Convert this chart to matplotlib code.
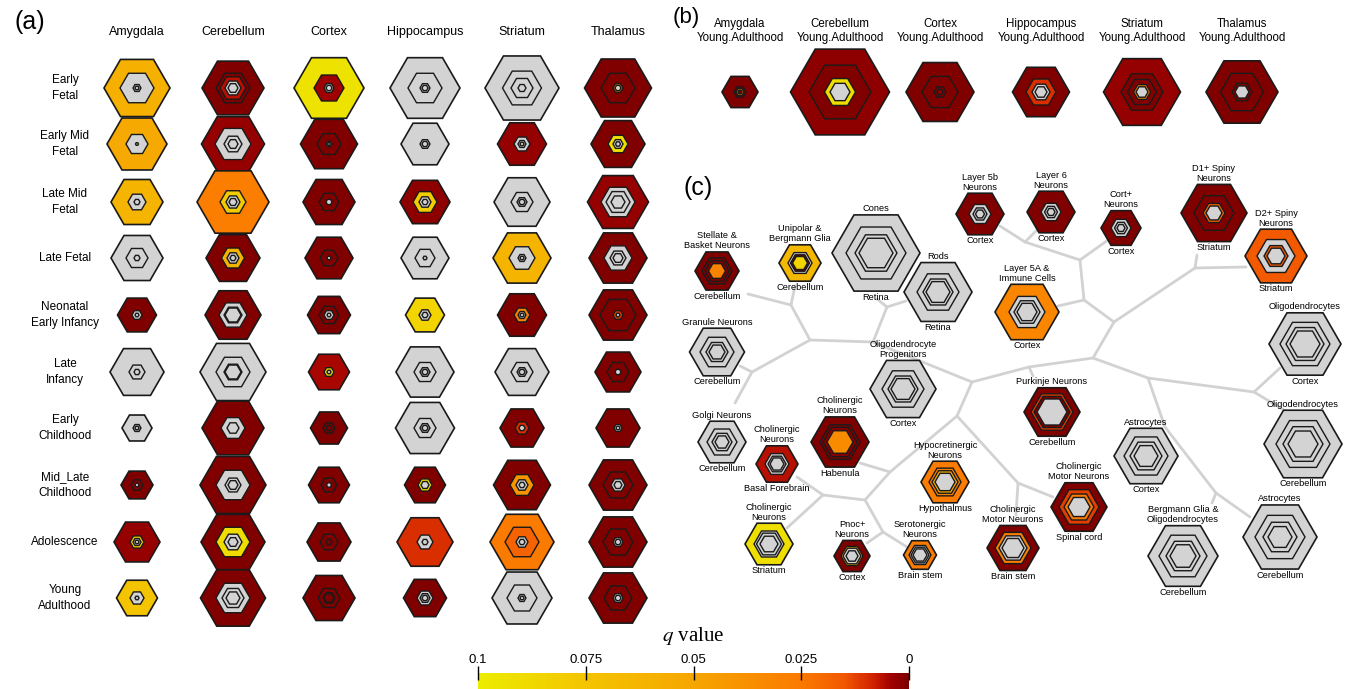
import numpy as np
import matplotlib.pyplot as plt
from matplotlib.patches import RegularPolygon
from matplotlib.colors import LinearSegmentedColormap, Normalize
from matplotlib.cm import ScalarMappable

plt.rcParams['font.family'] = ['Liberation Sans', 'DejaVu Sans']
plt.rcParams['mathtext.fontset'] = 'stix'

QMAX = 0.1
DR = 0.0005   # strongest enrichment (dark red)
NS = None     # q > 0.1, drawn grey

# ---- (a) developmental time course: nested (size, q) layers for each hex ----
regions = ["Amygdala", "Cerebellum", "Cortex", "Hippocampus", "Striatum", "Thalamus"]
stages = ["Early\nFetal", "Early Mid\nFetal", "Late Mid\nFetal", "Late Fetal",
          "Neonatal\nEarly Infancy", "Late\nInfancy", "Early\nChildhood",
          "Mid_Late\nChildhood", "Adolescence", "Young\nAdulthood"]

amygdala = [
    [(33, 0.058), (17, NS), (4, NS), (2, NS)],
    [(30, 0.052), (11, NS), (1.5, NS)],
    [(26, 0.062), (9, NS), (3, NS)],
    [(26, NS), (11, NS), (3, NS)],
    [(19.5, DR), (5, NS), (2, NS)],
    [(27, NS), (8, NS), (3, NS)],
    [(15, NS), (4, NS), (2, NS)],
    [(16, DR), (6, DR), (2, NS)],
    [(23, 0.003), (7, 0.082), (4, NS), (2, NS)],
    [(20.5, 0.075), (7, NS), (2, NS)],
]
cerebellum = [
    [(31, DR), (17, DR), (13, 0.006), (8, NS), (5, NS)],
    [(31.5, 0.003), (18, NS), (9, NS), (5, NS)],
    [(36, 0.027), (13, 0.08), (7, NS), (4, NS)],
    [(27, DR), (11.5, 0.06), (6, NS), (3, NS)],
    [(28, DR), (14, NS), (9, NS), (8, NS)],
    [(33, NS), (17, NS), (9, NS), (8, NS)],
    [(31, DR), (12, NS), (6, NS)],
    [(33, DR), (17, NS), (8, NS), (5, NS)],
    [(32, DR), (17, 0.09), (9, NS), (5, NS)],
    [(32.5, DR), (17, NS), (11, NS), (7, NS)],
]
cortex = [
    [(35, 0.094), (15, 0.004), (5, NS), (3, NS)],
    [(28.5, DR), (12, DR), (3, NS), (1.5, NS)],
    [(26, DR), (10, DR), (3, NS)],
    [(24, DR), (9, DR), (2, NS)],
    [(21.5, DR), (10, DR), (5, NS), (2, NS)],
    [(20.5, 0.005), (5, 0.092), (2, NS)],
    [(18.5, DR), (6, DR), (3, DR)],
    [(20.5, DR), (8, DR), (2.5, NS)],
    [(22, DR), (9, DR), (3, DR)],
    [(26, DR), (11, DR), (6, DR), (5, DR)],
]
hippocampus = [
    [(35, NS), (17, NS), (5, NS), (3, NS)],
    [(24, NS), (5, NS), (3, NS)],
    [(25, 0.002), (12, 0.08), (6, NS), (3, NS)],
    [(24, NS), (10, NS), (2, NS)],
    [(19.5, 0.085), (6, NS), (3, NS)],
    [(29, NS), (11, NS), (5, NS), (3, NS)],
    [(29.5, NS), (11, NS), (5, NS), (3, NS)],
    [(20.5, DR), (7, 0.092), (4, NS)],
    [(28, 0.01), (8, NS), (3, NS)],
    [(21.5, DR), (8, NS), (5, NS), (3, NS)],
]
striatum = [
    [(37, NS), (19.5, NS), (11, NS), (4, NS)],
    [(24.5, 0.003), (8, NS), (4, NS), (2, NS)],
    [(28, NS), (11, NS), (5, NS), (3, NS)],
    [(29, 0.062), (13, NS), (4, NS), (2, NS)],
    [(24.5, DR), (8, 0.03), (4, NS), (2, NS)],
    [(27, NS), (11, NS), (5, NS), (3, NS)],
    [(22, DR), (7, 0.01), (3, NS)],
    [(28.5, DR), (12, 0.04), (6, NS), (3, NS)],
    [(32, 0.025), (17, 0.018), (6, NS), (3, NS)],
    [(30, NS), (15, NS), (4, NS), (2, NS)],
]
thalamus = [
    [(33.5, DR), (17, DR), (5, 0.03), (3, NS)],
    [(27, DR), (10, 0.09), (5, NS), (2.5, NS)],
    [(30.5, 0.003), (17, NS), (12, NS), (7, NS)],
    [(29, DR), (14, NS), (8, NS), (5, NS)],
    [(29, DR), (18, DR), (5, 0.012), (2, NS)],
    [(23, DR), (11, DR), (3, NS)],
    [(22, DR), (4, NS), (2, NS)],
    [(29, DR), (15, DR), (7, NS), (4, NS)],
    [(29, DR), (15, DR), (5, NS), (3, NS)],
    [(29, DR), (14, DR), (5, NS), (3, NS)],
]
panel_a = [amygdala, cerebellum, cortex, hippocampus, striatum, thalamus]

# ---- (b) young adulthood ----
b_labels = [r + "\nYoung.Adulthood" for r in regions]
b_layers = [
    [(18, DR), (6, DR), (4, 0.03), (2, DR)],
    [(49.5, 0.002), (31, DR), (15.5, 0.09), (10, NS)],
    [(34, DR), (18, DR), (6, DR), (3, 0.003)],
    [(28.5, DR), (15, 0.01), (9, NS), (6, NS)],
    [(38.5, 0.003), (21, DR), (14.5, DR), (8.5, 0.03), (6, NS)],
    [(36, DR), (21.5, DR), (10, DR), (7, NS)],
]

# ---- (c) mouse cell types ----
c_names = ["Stellate &\nBasket Neurons", "Unipolar &\nBergmann Glia", "Cones", "Rods",
           "Layer 5b\nNeurons", "Layer 6\nNeurons", "Cort+\nNeurons", "D1+ Spiny\nNeurons",
           "D2+ Spiny\nNeurons", "Layer 5A &\nImmune Cells", "Oligodendrocytes",
           "Granule Neurons", "Oligodendrocyte\nProgenitors", "Golgi Neurons",
           "Cholinergic\nNeurons", "Cholinergic\nNeurons", "Purkinje Neurons",
           "Hypocretinergic\nNeurons", "Astrocytes", "Oligodendrocytes",
           "Cholinergic\nMotor Neurons", "Cholinergic\nNeurons", "Pnoc+\nNeurons",
           "Serotonergic\nNeurons", "Cholinergic\nMotor Neurons",
           "Bergmann Glia &\nOligodendrocytes", "Astrocytes"]
c_tissues = ["Cerebellum", "Cerebellum", "Retina", "Retina", "Cortex", "Cortex", "Cortex",
             "Striatum", "Striatum", "Cortex", "Cortex", "Cerebellum", "Cortex", "Cerebellum",
             "Habenula", "Basal Forebrain", "Cerebellum", "Hypothalmus", "Cortex", "Cerebellum",
             "Spinal cord", "Striatum", "Cortex", "Brain stem", "Brain stem", "Cerebellum",
             "Cerebellum"]
c_layers = [
    [(22, DR), (15, DR), (12, DR), (8.5, 0.03)],
    [(21, 0.065), (12, NS), (9.5, DR), (7.5, 0.085)],
    [(44, NS), (30, NS), (21, NS), (17, NS)],
    [(34, NS), (21, NS), (15, NS), (12, NS)],
    [(24, DR), (11, NS), (7, NS), (4.5, NS)],
    [(24, DR), (10, NS), (6.5, NS), (4, NS)],
    [(20, DR), (10, NS), (6.5, NS), (4, NS)],
    [(33, DR), (20, DR), (11, 0.018), (8, NS)],
    [(31, 0.016), (19, NS), (12, 0.016), (9, NS)],
    [(32, 0.032), (18, NS), (13, NS), (10, NS)],
    [(36, NS), (25, NS), (19, NS), (15, NS)],
    [(27.5, NS), (17, NS), (11, NS), (8, NS)],
    [(33, NS), (21, NS), (15, NS), (12, NS)],
    [(24, NS), (15, NS), (10, NS), (7, NS)],
    [(29, DR), (20, 0.001), (17, 0.001), (13, 0.035)],
    [(21, 0.006), (12, NS), (9, NS), (7, NS)],
    [(28, DR), (21, 0.012), (18, DR), (15, NS)],
    [(24, 0.026), (16, 0.03), (13, 0.055), (10, NS)],
    [(32, NS), (22, NS), (16, NS), (12, NS)],
    [(39, NS), (27, NS), (20, NS), (15, NS)],
    [(28, DR), (20, 0.012), (15, 0.025), (11, NS)],
    [(24, 0.092), (15, NS), (12.5, NS), (9, NS)],
    [(18, DR), (11, 0.06), (9, NS), (6, NS)],
    [(16.5, 0.025), (11, NS), (9, NS), (7, NS)],
    [(26, DR), (18, 0.028), (14, NS), (11, NS)],
    [(35, NS), (24, NS), (17, NS), (13, NS)],
    [(37, NS), (25, NS), (17, NS), (12, NS)],
]

# layout (pixel space)
a_x = [137, 233, 329, 425, 522, 618]
a_y = [88, 144, 202, 258, 315, 372, 428, 485, 542, 598]
b_x = [740, 840, 940, 1041, 1142, 1242]
b_y = 92
c_xy = [(717, 271), (800, 263), (876, 253), (938, 292), (980, 214), (1051, 212),
        (1121, 228), (1214, 213), (1276, 256), (1027, 312), (1305, 344), (717, 352),
        (903, 389), (722, 442), (840, 442), (777, 464), (1052, 412), (945, 482),
        (1146, 456), (1303, 444), (1079, 507), (769, 544), (852, 556), (920, 555),
        (1013, 548), (1183, 556), (1280, 537)]

J = dict(a=(791, 305), b=(810, 340), m=(752, 372), e=(873, 342), r=(887, 307),
         d=(972, 382), c1=(1029, 367), f=(1093, 358), n4=(1114, 322), n3=(1084, 300),
         n2=(1080, 260), n1=(1025, 242), n5=(1195, 268), s=(1148, 378), t=(1254, 392),
         u=(1216, 493), g=(957, 416), h=(1018, 483), i=(890, 472), j=(865, 500),
         k=(823, 495), l=(883, 532))
tree = [
    [(748, 294), 'a', 'b'], [(795, 286), 'a'], ['b', 'm', (740, 366)], ['m', (735, 403)],
    ['b', 'e', 'd'], ['e', 'r', (877, 299)], ['r', (906, 301)],
    ['d', 'c1', 'f', 'n4', 'n5', (1197, 255)], ['c1', (1033, 376)], ['n5', (1246, 267)],
    ['n4', 'n3', 'n2', 'n1', (1000, 226)], ['n1', (1037, 230)], ['n2', (1108, 240)],
    ['n3', (1058, 306)], ['f', 's', 't', (1280, 368)], ['t', (1284, 410)],
    ['s', (1165, 427), 'u', (1212, 503)], ['u', (1250, 517)],
    ['d', 'g', 'h', (1053, 497)], ['h', (1016, 515)], ['g', 'i', (860, 463)],
    ['i', 'j', 'k', (797, 477)], ['k', (787, 528)], ['j', 'l', (867, 543)], ['l', (907, 547)],
]

cmap = LinearSegmentedColormap.from_list("qval", [
    (0.0, "#7c0000"), (0.04, "#a00000"), (0.08, "#d02000"), (0.15, "#f25800"),
    (0.25, "#fb7a00"), (0.5, "#f6a600"), (0.75, "#f4c400"), (1.0, "#ecec00")])
GREY = "#d3d3d3"

fig = plt.figure(figsize=(13.46, 6.89), dpi=100)
ax = fig.add_axes([0, 0, 1, 1])
ax.set_xlim(0, 1346)
ax.set_ylim(689, 0)
ax.axis('off')


def hexstack(x, y, layers):
    for n, (r, q) in enumerate(layers):
        fc = GREY if q is None else cmap(q / QMAX)
        ax.add_patch(RegularPolygon((x, y), 6, radius=r, orientation=np.pi / 6,
                                    facecolor=fc, edgecolor='#1a1a1a',
                                    lw=1.2 if n == 0 else 1.0, zorder=3 + n))


# panel (a)
for ci, col in enumerate(panel_a):
    ax.text(a_x[ci], 32, regions[ci], ha='center', va='center', fontsize=9)
    for ri, layers in enumerate(col):
        hexstack(a_x[ci], a_y[ri], layers)
for ri, lab in enumerate(stages):
    ax.text(65, a_y[ri], lab, ha='center', va='center', fontsize=8.5, linespacing=1.35)

# panel (b)
for x, lab, layers in zip(b_x, b_labels, b_layers):
    ax.text(x, 31, lab, ha='center', va='center', fontsize=8.3, linespacing=1.2)
    hexstack(x, b_y, layers)

# panel (c) tree
for path in tree:
    pts = np.array([J[p] if isinstance(p, str) else p for p in path])
    ax.plot(pts[:, 0], pts[:, 1], color='#d2d2d2', lw=2.0, solid_capstyle='round', zorder=1)
for (x, y), name, tis, layers in zip(c_xy, c_names, c_tissues, c_layers):
    hexstack(x, y, layers)
    h = 0.866 * layers[0][0]
    ax.text(x, y - h - 1.5, name, ha='center', va='bottom', fontsize=6.7,
            linespacing=1.15, zorder=10)
    ax.text(x, y + h + 1.5, tis, ha='center', va='top', fontsize=6.7, zorder=10)

# panel letters
ax.text(30, 22, "(a)", ha='center', va='center', fontsize=18)
ax.text(686, 17, "(b)", ha='center', va='center', fontsize=16)
ax.text(698, 188, "(c)", ha='center', va='center', fontsize=18)

# colour bar
ax.text(693, 636, r"$\mathbf{\mathit{q}}$ value", ha='center', va='center',
        fontsize=15, family='Liberation Serif')
cax = fig.add_axes([478 / 1346, 0, 431 / 1346, 16 / 689])
cb = fig.colorbar(ScalarMappable(Normalize(0, QMAX), cmap), cax=cax, orientation='horizontal')
cb.outline.set_visible(False)
cax.invert_xaxis()
cax.xaxis.set_ticks_position('top')
cb.set_ticks([0.1, 0.075, 0.05, 0.025, 0])
cb.set_ticklabels(['0.1', '0.075', '0.05', '0.025', '0'])
cax.tick_params(axis='x', direction='inout', length=10, width=1, labelsize=9.5, pad=0)

fig.savefig("out.png", dpi=100, facecolor='white')
